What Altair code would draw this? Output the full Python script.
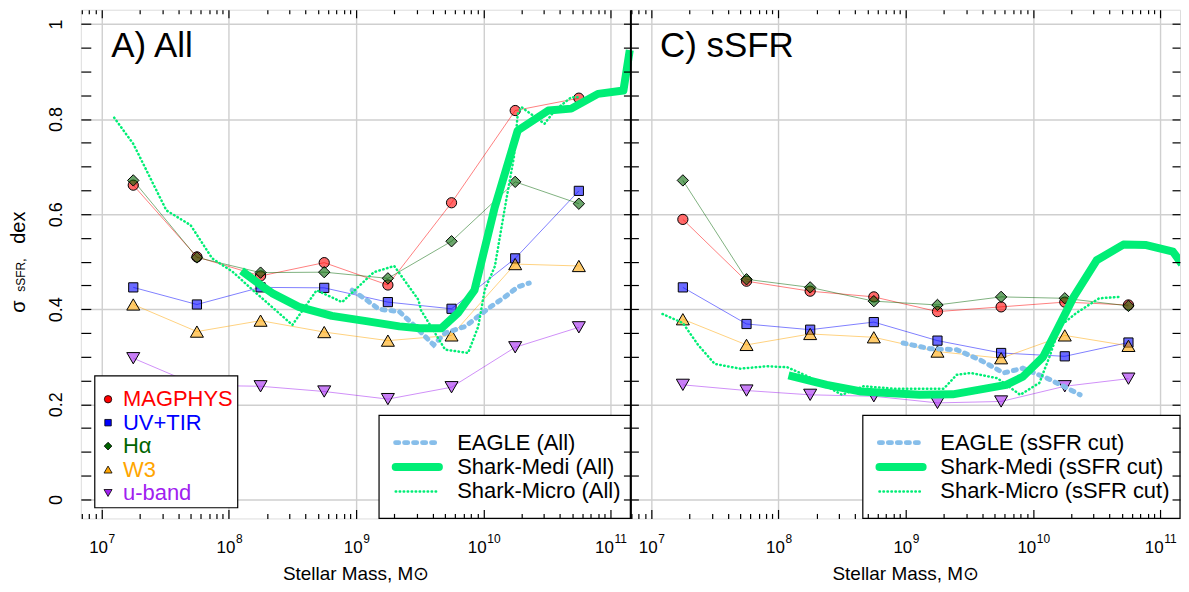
import math
import altair as alt
import pandas as pd

FONT = "Liberation Sans"

# ---------------- data ----------------
mass_bins = [7.25, 7.75, 8.25, 8.75, 9.25, 9.75, 10.25, 10.75]   # log10 stellar mass
methods = ["MAGPHYS", "UV+TIR", "Hα", "W3", "u-band"]

# Panel A (All)
a_magphys = [0.661, 0.510, 0.470, 0.498, 0.451, 0.624, 0.818, 0.844]
a_uvtir = [0.446, 0.410, 0.446, 0.445, 0.415, 0.401, 0.507, 0.649]
a_halpha = [0.671, 0.509, 0.477, 0.478, 0.465, 0.543, 0.668, 0.622]
a_w3 = [0.410, 0.353, 0.376, 0.352, 0.334, 0.345, 0.495, 0.491]
a_uband = [0.297, 0.240, 0.238, 0.227, 0.211, 0.236, 0.320, 0.362]

a_eagle_m = [8.97, 9.08, 9.18, 9.34, 9.44, 9.61, 9.70, 9.86, 10.04, 10.17, 10.27, 10.36]
a_eagle_s = [0.440, 0.420, 0.400, 0.395, 0.370, 0.325, 0.350, 0.364, 0.402, 0.426, 0.447, 0.455]

a_medi_m = [8.10, 8.27, 8.34, 8.55, 8.81, 9.08, 9.34, 9.50, 9.67, 9.80, 9.93, 10.09, 10.27, 10.51,
            10.69, 10.90, 11.10, 11.15]
a_medi_s = [0.481, 0.447, 0.434, 0.405, 0.386, 0.375, 0.364, 0.360, 0.360, 0.392, 0.440, 0.615, 0.776,
            0.818, 0.822, 0.853, 0.860, 0.945]

a_micro_m = [7.10, 7.25, 7.51, 7.70, 7.87, 8.03, 8.19, 8.50, 8.69, 8.89, 9.14, 9.30, 9.49, 9.51, 9.70,
             9.88, 9.96, 10.01, 10.09, 10.17, 10.24, 10.27, 10.30, 10.48, 10.56, 10.69, 10.74]
a_micro_s = [0.803, 0.748, 0.608, 0.577, 0.507, 0.479, 0.440, 0.367, 0.440, 0.415, 0.478, 0.491, 0.420,
             0.398, 0.315, 0.308, 0.364, 0.440, 0.490, 0.615, 0.720, 0.811, 0.825, 0.790, 0.818, 0.846,
             0.846]

# Panel C (sSFR)
c_magphys = [0.589, 0.459, 0.438, 0.426, 0.395, 0.405, 0.415, 0.409]
c_uvtir = [0.446, 0.369, 0.357, 0.373, 0.334, 0.308, 0.301, 0.330]
c_halpha = [0.671, 0.463, 0.446, 0.417, 0.409, 0.426, 0.423, 0.407]
c_w3 = [0.379, 0.325, 0.348, 0.341, 0.311, 0.297, 0.345, 0.323]
c_uband = [0.241, 0.229, 0.220, 0.217, 0.203, 0.206, 0.238, 0.254]

c_eagle_m = [8.98, 9.19, 9.40, 9.58, 9.77, 9.92, 10.11, 10.24, 10.37]
c_eagle_s = [0.329, 0.317, 0.315, 0.294, 0.266, 0.276, 0.255, 0.238, 0.220]

c_medi_m = [8.08, 8.38, 8.65, 9.11, 9.37, 9.58, 9.79, 9.92, 10.08, 10.19, 10.32, 10.50, 10.71, 10.89,
            11.10, 11.17]
c_medi_s = [0.261, 0.241, 0.227, 0.220, 0.221, 0.231, 0.241, 0.258, 0.300, 0.357, 0.426, 0.503, 0.536,
            0.535, 0.521, 0.495]

c_micro_m = [7.09, 7.25, 7.37, 7.50, 7.70, 7.91, 8.07, 8.23, 8.38, 8.50, 8.67, 8.91, 9.11, 9.30, 9.40,
             9.51, 9.72, 9.90, 10.05, 10.13, 10.21, 10.34, 10.52, 10.69]
c_micro_s = [0.390, 0.371, 0.325, 0.285, 0.275, 0.280, 0.278, 0.259, 0.238, 0.220, 0.238, 0.233, 0.233,
             0.233, 0.262, 0.266, 0.255, 0.220, 0.245, 0.300, 0.364, 0.392, 0.423, 0.426]

# axis ticks / labels: "10" with a raised exponent
x_tick_exps = [7, 8, 9, 10, 11]
x_tick_base = "10"
x_minor_mult = [2, 3, 4, 5, 6, 7, 8, 9]
y_major = [0, 0.2, 0.4, 0.6, 0.8, 1.0]
y_minor = [round(0.05 * i, 2) for i in range(0, 21)]

# ---------------- layout / styling ----------------
PW, H = 551, 510              # one panel's plot size
W = 2 * PW
XLOG_MIN, XLOG_MAX = 6.838, 11.155
SPAN = XLOG_MAX - XLOG_MIN    # the second panel is placed one span to the right
Y_MIN, Y_MAX = -0.040, 1.030
fill_colors = ["#FF0000", "#0000FF", "#006400", "#FFA500", "#A020F0"]
shapes = ["circle", "square", "diamond", "triangle-up", "triangle-down"]
sizes = [105, 85, 130, 170, 170]
GREEN = "#00EE76"
EAGLE_C = "#87BEEA"
GRID = "#CFCFCF"

xscale = alt.Scale(domain=[XLOG_MIN, XLOG_MIN + 2 * SPAN], nice=False, zero=False)
yscale = alt.Scale(domain=[Y_MIN, Y_MAX], nice=False, zero=False)

decades = [float(e) for e in x_tick_exps]
decades_r = [e + SPAN for e in decades]
minors = [math.log10(m) + k for k in range(6, 11) for m in x_minor_mult
          if XLOG_MIN + 0.005 < math.log10(m) + k < XLOG_MAX - 0.005]
minors_all = minors + [v + SPAN for v in minors]
exp_expr = f"'' + round(datum.value > {XLOG_MAX} ? datum.value - {SPAN} : datum.value)"

one = pd.DataFrame({"m": [9.0], "v": [0.5]})


def method_df(vals, panel_off):
    return pd.DataFrame({"lx": [lm + panel_off for lm in mass_bins], "val": vals})


def curve_df(lms, vals, panel_off):
    return pd.DataFrame({"lx": [x + panel_off for x in lms], "val": vals})


def X():
    return alt.X("lx:Q", scale=xscale, axis=None)


def Y():
    return alt.Y("val:Q", scale=yscale, axis=None)


def xaxis(**kw):
    base = dict(grid=False, labels=False, domain=False, title=None, ticks=True,
                tickColor="black", tickWidth=1.2, zindex=1)
    base.update(kw)
    return alt.Chart(one).mark_point(opacity=0).encode(
        x=alt.X("m:Q", scale=xscale, axis=alt.Axis(**base)))


def yaxis(**kw):
    base = dict(grid=False, labels=False, domain=False, title=None, ticks=True,
                tickColor="black", tickWidth=1.2, zindex=1)
    base.update(kw)
    return alt.Chart(one).mark_point(opacity=0).encode(
        y=alt.Y("v:Q", scale=yscale, axis=alt.Axis(**base)))


def txt(text, x, y, size, color="black", align="left", baseline="middle", angle=0):
    return alt.Chart(one).mark_text(text=text, align=align, baseline=baseline, fontSize=size,
                                    font=FONT, color=color, angle=angle).encode(
        x=alt.value(x), y=alt.value(y))


layers = []
# grid lines
layers.append(xaxis(orient="bottom", values=decades + decades_r, grid=True, gridColor=GRID,
                    gridWidth=1.4, ticks=False, zindex=0))
layers.append(yaxis(orient="left", values=y_major, grid=True, gridColor=GRID, gridWidth=1.4,
                    ticks=False, zindex=0))

EAGLE_DASH = [3, 6]
MICRO_DASH = [0.5, 3.5]


def panel_data_layers(vals_list, eagle, medi, micro, off):
    out = []
    for vals, col in zip(vals_list, fill_colors):
        out.append(alt.Chart(method_df(vals, off)).mark_line(
            strokeWidth=1, color=col, opacity=0.5, clip=True).encode(x=X(), y=Y()))
    for vals, col, shp, sz in zip(vals_list, fill_colors, shapes, sizes):
        out.append(alt.Chart(method_df(vals, off)).mark_point(
            filled=True, shape=shp, size=sz, fill=col, fillOpacity=0.58, stroke="black",
            strokeWidth=1, opacity=1, clip=True).encode(x=X(), y=Y()))
    out.append(alt.Chart(curve_df(*eagle, off)).mark_line(
        color=EAGLE_C, strokeWidth=5, strokeDash=EAGLE_DASH, strokeCap="round", clip=True).encode(
        x=X(), y=Y()))
    out.append(alt.Chart(curve_df(*medi, off)).mark_line(
        color=GREEN, strokeWidth=8, strokeJoin="round", clip=True).encode(x=X(), y=Y()))
    out.append(alt.Chart(curve_df(*micro, off)).mark_line(
        color=GREEN, strokeWidth=2.5, strokeDash=MICRO_DASH, strokeCap="round", clip=True).encode(
        x=X(), y=Y()))
    return out


layers += panel_data_layers([a_magphys, a_uvtir, a_halpha, a_w3, a_uband],
                            (a_eagle_m, a_eagle_s), (a_medi_m, a_medi_s), (a_micro_m, a_micro_s), 0.0)
layers += panel_data_layers([c_magphys, c_uvtir, c_halpha, c_w3, c_uband],
                            (c_eagle_m, c_eagle_s), (c_medi_m, c_medi_s), (c_micro_m, c_micro_s), SPAN)

# method legend (panel A)
layers.append(alt.Chart(one).mark_rect(fill="white", stroke="black", strokeWidth=1.2).encode(
    x=alt.value(14), x2=alt.value(157.3), y=alt.value(367), y2=alt.value(499.3)))
legend_sizes = [55, 42, 60, 65, 65]
for i, meth in enumerate(methods):
    yy = 390.5 + i * 23.5
    layers.append(alt.Chart(one).mark_point(filled=True, shape=shapes[i], size=legend_sizes[i],
                                            fill=fill_colors[i], stroke="black", strokeWidth=0.8,
                                            opacity=1).encode(
        x=alt.value(27.3), y=alt.value(yy)))
    layers.append(txt(meth, 42.3, yy, 22, color=fill_colors[i]))

# model legends
styles = [dict(color=EAGLE_C, strokeWidth=5, strokeDash=EAGLE_DASH, strokeCap="round"),
          dict(color=GREEN, strokeWidth=8, strokeCap="round"),
          dict(color=GREEN, strokeWidth=2.5, strokeDash=MICRO_DASH, strokeCap="round")]
for suffix, box_x, s0, s1, tx in [("All", 299, 315.7, 359, 377.3),
                                  ("sSFR cut", PW + 233, PW + 249.7, PW + 293, PW + 310.7)]:
    box_r = PW if suffix == "All" else W
    layers.append(alt.Chart(one).mark_rect(fill="white", stroke="black", strokeWidth=1.2).encode(
        x=alt.value(box_x), x2=alt.value(box_r), y=alt.value(406.7), y2=alt.value(H)))
    names = [f"EAGLE ({suffix})", f"Shark-Medi ({suffix})", f"Shark-Micro ({suffix})"]
    for i, (nm, st) in enumerate(zip(names, styles)):
        yy = 434 + i * 24.5
        layers.append(alt.Chart(one).mark_rule(**st).encode(
            x=alt.value(s0), x2=alt.value(s1), y=alt.value(yy)))
        layers.append(txt(nm, tx, yy, 22))

# x tick labels: "10" plus a raised exponent, built from two label axes
all_dec = decades + decades_r
single = [v for v in all_dec if round(v if v < XLOG_MAX else v - SPAN) < 10]
double = [v for v in all_dec if round(v if v < XLOG_MAX else v - SPAN) >= 10]
for vals, base_off in [(single, 6.1), (double, 2.8)]:
    layers.append(xaxis(orient="bottom", values=vals, ticks=False, tickSize=0, labels=True,
                        labelExpr=f"'{x_tick_base}'", labelFont=FONT, labelFontSize=17,
                        labelColor="black", labelPadding=21, labelAlign="right",
                        labelOffset=base_off, labelFlush=False, labelOverlap=False))
    layers.append(xaxis(orient="bottom", values=vals, ticks=False, tickSize=0, labels=True,
                        labelExpr=exp_expr, labelFont=FONT, labelFontSize=12,
                        labelColor="black", labelPadding=15, labelAlign="left",
                        labelOffset=base_off + 0.6, labelFlush=False, labelOverlap=False))
# x titles, one per panel
for tx in [PW / 2, PW + PW / 2]:
    layers.append(xaxis(orient="bottom", values=[], ticks=False, tickSize=0, labels=False,
                        minExtent=37, maxExtent=37,
                        title="Stellar Mass, M⊙", titleFont=FONT, titleFontSize=19,
                        titleFontWeight="normal", titleColor="black", titlePadding=9, titleX=tx))
# inward ticks on the bottom and top edges
layers.append(xaxis(orient="top", offset=-H, values=all_dec, tickSize=9))
layers.append(xaxis(orient="top", offset=-H, values=minors_all, tickSize=5))
layers.append(xaxis(orient="bottom", offset=-H, values=all_dec, tickSize=8))
layers.append(xaxis(orient="bottom", offset=-H, values=minors_all, tickSize=4))
# inward y ticks: outer left, outer right, and both sides of the panel divider
layers.append(yaxis(orient="right", offset=-W, values=y_minor, tickSize=10))
layers.append(yaxis(orient="left", offset=-W, values=y_minor, tickSize=8))
layers.append(yaxis(orient="left", offset=-PW, values=y_minor, tickSize=7, domain=True,
                    domainColor="black", domainWidth=2))
layers.append(yaxis(orient="right", offset=-PW, values=y_minor, tickSize=8))
# y labels
layers.append(yaxis(orient="left", values=y_major, ticks=False, tickSize=0, labels=True,
                    format="~g", labelAngle=270, labelAlign="center", labelBaseline="bottom",
                    labelPadding=15, labelFont=FONT, labelFontSize=18, labelColor="black"))
# y title: sigma with small sSFR subscript, then dex
for t, yy, fs in [("σ", 297.7, 20), ("sSFR,", 266, 12), ("dex", 218.5, 20)]:
    layers.append(txt(t, -56, yy, fs, align="center", baseline="alphabetic", angle=270))

# panel labels
layers.append(txt("A) All", 30.5, 47.7, 35, baseline="alphabetic"))
layers.append(txt("C) sSFR", PW + 29.7, 47.7, 35, baseline="alphabetic"))

chart = alt.layer(*layers).resolve_axis(x="independent", y="independent").properties(
    width=W, height=H, padding={"left": 1, "top": 0, "right": 0, "bottom": 0}
).configure_view(stroke="black", strokeWidth=2).configure(background="white")

chart.save("out.html", embed_options={"renderer": "svg", "actions": False})
